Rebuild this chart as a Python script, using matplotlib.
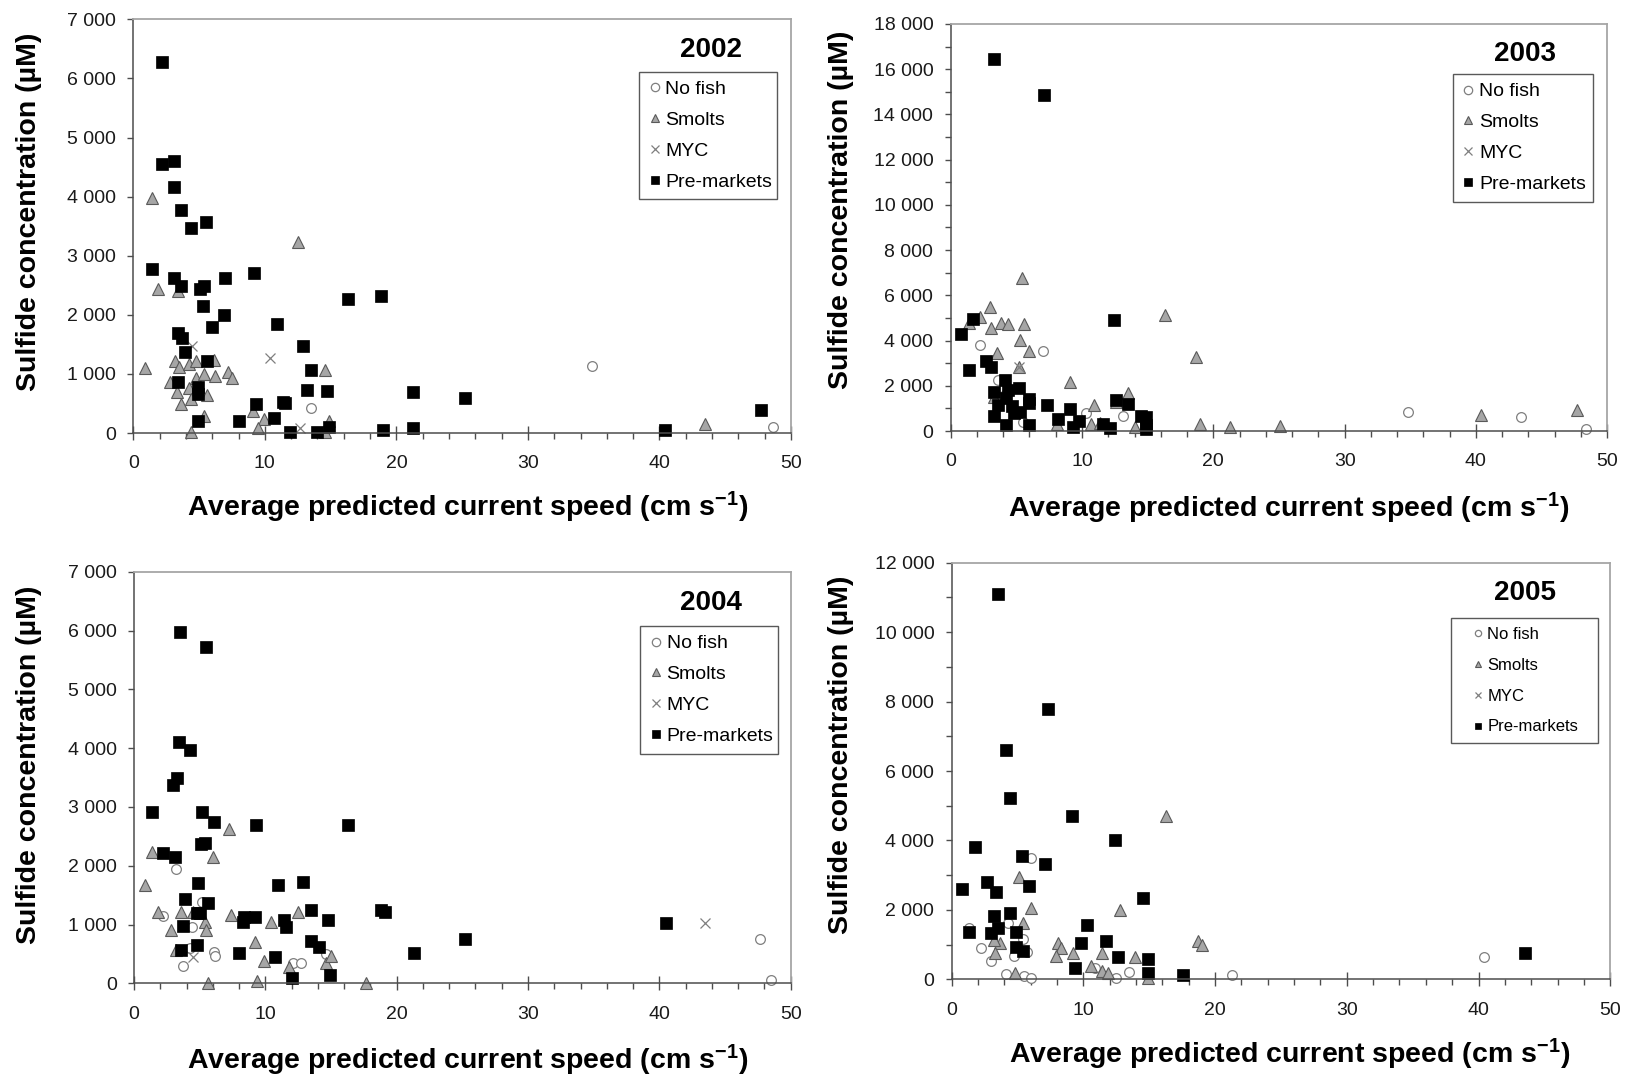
import matplotlib
matplotlib.use("Agg")
import matplotlib.pyplot as plt
from matplotlib.ticker import MultipleLocator, FuncFormatter

plt.rcParams['font.family'] = ['Liberation Sans', 'DejaVu Sans']
plt.rcParams['mathtext.default'] = 'regular'

W, H = 1629, 1075

groups = ["No fish", "Smolts", "MYC", "Pre-markets"]

# ---- 2002 : speed (cm/s), sulfide (uM) ----
nofish_x_2002 = [13.5, 34.9, 48.6]
nofish_y_2002 = [430, 1140, 100]
smolts_x_2002 = [1.4, 12.5, 1.9, 3.4, 0.9, 3.2, 3.5, 4.2, 4.8, 6.1, 7.2, 7.5, 4.8, 5.4, 6.2,
                 2.8, 3.3, 4.2, 3.6, 4.4, 5.6, 14.6, 5.4, 9.1, 9.9, 9.5, 4.4, 14.9, 14.6, 43.5]
smolts_y_2002 = [3970, 3230, 2430, 2400, 1100, 1210, 1110, 1170, 1220, 1240, 1040, 930, 930, 990, 960,
                 870, 700, 760, 490, 580, 640, 1060, 280, 370, 240, 80, 10, 200, 10, 150]
myc_x_2002 = [4.5, 10.4, 12.7]
myc_y_2002 = [1480, 1270, 80]
pre_x_2002 = [2.2, 2.2, 3.1, 3.1, 3.6, 4.4, 5.5, 1.4, 3.1, 3.6, 5.1, 5.4, 7.0, 9.2, 5.3, 6.9,
              6.0, 10.9, 3.4, 3.7, 3.9, 5.6, 12.9, 13.5, 3.4, 4.9, 4.9, 13.2, 14.7, 9.3, 11.4,
              11.5, 10.7, 8.0, 4.9, 11.9, 14.0, 14.9, 16.3, 18.8, 19.0, 21.3, 21.3, 25.2, 40.4, 47.7]
pre_y_2002 = [6270, 4550, 4610, 4160, 3780, 3470, 3570, 2770, 2620, 2490, 2440, 2480, 2620, 2700, 2150, 2000,
              1800, 1850, 1690, 1610, 1370, 1220, 1470, 1070, 870, 780, 660, 720, 710, 490, 530,
              500, 250, 200, 210, 10, 10, 100, 2270, 2310, 45, 700, 85, 600, 50, 390]

# ---- 2003 ----
nofish_x_2003 = [2.2, 7.0, 10.3, 13.1, 5.5, 3.6, 34.8, 43.4, 48.4]
nofish_y_2003 = [3810, 3540, 780, 660, 380, 2260, 830, 630, 100]
smolts_x_2003 = [5.4, 3.0, 2.2, 1.4, 3.1, 3.8, 4.4, 5.6, 5.3, 6.0, 3.5, 5.2, 16.3, 18.7, 9.1, 10.9,
                 13.5, 12.6, 3.3, 8.1, 10.7, 11.4, 14.0, 19.0, 21.3, 25.1, 40.4, 47.7]
smolts_y_2003 = [6780, 5500, 5060, 4760, 4540, 4760, 4740, 4740, 4030, 3560, 3440, 2820, 5130, 3290, 2150, 1150,
                 1670, 1300, 1520, 300, 300, 340, 190, 300, 190, 240, 710, 930]
myc_x_2003 = [5.2, 4.1]
myc_y_2003 = [2850, 1900]
pre_x_2003 = [3.3, 7.1, 0.8, 1.7, 1.4, 2.7, 3.1, 12.4, 4.1, 4.4, 3.3, 3.6, 3.3, 4.2, 4.8, 5.3, 5.2,
              6.0, 6.0, 6.0, 7.3, 8.2, 9.1, 9.3, 9.8, 11.6, 12.1, 12.6, 13.5, 14.5, 14.9, 14.9, 14.9,
              4.2, 4.7]
pre_y_2003 = [16450, 14850, 4290, 4940, 2700, 3110, 2850, 4910, 2260, 1810, 1740, 1150, 660, 270, 780, 860, 1890,
              1400, 1250, 270, 1140, 520, 970, 190, 460, 300, 150, 1370, 1180, 660, 610, 270, 70,
              1450, 1100]

# ---- 2004 ----
nofish_x_2004 = [3.2, 2.2, 5.2, 4.4, 3.7, 4.3, 6.1, 6.2, 12.1, 12.7, 14.6, 47.7, 48.5]
nofish_y_2004 = [1940, 1140, 1380, 960, 300, 600, 540, 470, 340, 350, 490, 760, 60]
smolts_x_2004 = [1.4, 7.2, 6.0, 0.8, 1.8, 3.6, 4.5, 5.4, 5.5, 2.8, 3.2, 7.4, 10.4, 12.5, 9.2, 9.9,
                 11.8, 14.6, 15.0, 9.4, 5.6, 17.7]
smolts_y_2004 = [2230, 2620, 2150, 1670, 1220, 1210, 1220, 1050, 900, 910, 570, 1160, 1050, 1220, 710, 380,
                 280, 340, 470, 45, 0, 0]
myc_x_2004 = [4.5, 43.5]
myc_y_2004 = [440, 1020]
pre_x_2004 = [3.5, 5.5, 3.4, 4.3, 3.3, 3.0, 1.4, 5.2, 6.1, 9.3, 16.3, 2.2, 3.1, 5.1, 5.4, 4.9, 11.0,
              12.9, 3.9, 5.6, 4.8, 5.0, 8.4, 8.3, 9.2, 11.4, 11.6, 13.5, 14.8, 3.7, 4.8, 3.6, 8.0,
              10.7, 13.5, 14.1, 12.0, 14.9, 18.8, 19.1, 21.3, 25.2, 40.5]
pre_y_2004 = [5980, 5720, 4100, 3960, 3500, 3370, 2920, 2920, 2750, 2690, 2690, 2210, 2140, 2370, 2380, 1700, 1670,
              1720, 1430, 1370, 1190, 1200, 1120, 1050, 1120, 1070, 960, 1250, 1080, 980, 650, 570, 520,
              450, 720, 620, 85, 140, 1250, 1210, 520, 750, 1020]

# ---- 2005 ----
nofish_x_2005 = [1.3, 2.2, 3.0, 6.0, 4.3, 5.4, 4.7, 4.1, 5.5, 6.0, 5.7, 10.9, 12.5, 13.5, 21.3, 40.4]
nofish_y_2005 = [1470, 890, 530, 3500, 1610, 1160, 670, 140, 100, 30, 800, 320, 30, 220, 120, 650]
smolts_x_2005 = [16.3, 5.1, 6.0, 12.8, 5.4, 3.7, 3.2, 3.3, 8.1, 8.3, 7.9, 9.2, 11.4, 13.9, 10.6, 11.4,
                 11.9, 4.8, 18.7, 19.0, 14.9]
smolts_y_2005 = [4700, 2940, 2040, 2010, 1630, 1040, 1130, 750, 1060, 890, 670, 750, 750, 650, 390, 250,
                 190, 170, 1100, 990, 50]
myc_x_2005 = []
myc_y_2005 = []
pre_x_2005 = [3.5, 7.3, 4.1, 4.4, 9.1, 12.4, 1.8, 5.3, 7.1, 5.9, 0.8, 2.7, 3.4, 14.5, 3.2, 4.4, 10.3,
              3.5, 3.0, 1.3, 4.9, 11.7, 9.8, 4.9, 5.4, 12.6, 14.9, 9.4, 14.9, 17.6, 43.5]
pre_y_2005 = [11110, 7800, 6600, 5210, 4700, 4010, 3820, 3560, 3310, 2700, 2590, 2810, 2520, 2330, 1820, 1900, 1560,
              1470, 1320, 1350, 1350, 1110, 1040, 940, 820, 630, 580, 320, 190, 115, 750]

years = ["2002", "2003", "2004", "2005"]
series = {
    "2002": [(nofish_x_2002, nofish_y_2002), (smolts_x_2002, smolts_y_2002),
             (myc_x_2002, myc_y_2002), (pre_x_2002, pre_y_2002)],
    "2003": [(nofish_x_2003, nofish_y_2003), (smolts_x_2003, smolts_y_2003),
             (myc_x_2003, myc_y_2003), (pre_x_2003, pre_y_2003)],
    "2004": [(nofish_x_2004, nofish_y_2004), (smolts_x_2004, smolts_y_2004),
             (myc_x_2004, myc_y_2004), (pre_x_2004, pre_y_2004)],
    "2005": [(nofish_x_2005, nofish_y_2005), (smolts_x_2005, smolts_y_2005),
             (myc_x_2005, myc_y_2005), (pre_x_2005, pre_y_2005)],
}
ymax = {"2002": 7000, "2003": 18000, "2004": 7000, "2005": 12000}
ystep = {"2002": 1000, "2003": 2000, "2004": 1000, "2005": 2000}

styles = [
    dict(marker='o', ms=7, mfc='white', mec='#7f7f7f', mew=0.9),
    dict(marker='^', ms=8, mfc='#a6a6a6', mec='#595959', mew=0.8),
    dict(marker='x', ms=7, mec='#7f7f7f', mew=0.9),
    dict(marker='s', ms=8.5, mfc='black', mec='black', mew=0.5),
]

# panel boxes in pixels: left, right, top, bottom
boxes = {
    "2002": (133.3, 791.0, 19.3, 433.0),
    "2003": (950.7, 1607.2, 24.0, 431.0),
    "2004": (134.0, 790.7, 571.7, 983.3),
    "2005": (951.7, 1610.2, 562.7, 979.3),
}
# legend: left, top, width (axes fraction), fontsize, pad, spacing, handle len, text pad, marker size
legends = {
    "2002": (0.769, 0.873, 0.210, 14, 0.45, 0.68, 0.7, 0.2, 6),
    "2003": (0.765, 0.877, 0.213, 14, 0.45, 0.68, 0.7, 0.2, 6),
    "2004": (0.771, 0.868, 0.209, 14, 0.45, 0.68, 0.7, 0.2, 6),
    "2005": (0.758, 0.8665, 0.224, 12, 0.52, 0.95, 2.24, -0.57, 4.5),
}
titles_pos = {"2002": (0.879, 0.925), "2003": (0.875, 0.927),
              "2004": (0.878, 0.925), "2005": (0.871, 0.927)}
ylab_pos = {"2002": (29, 212), "2003": (841.5, 210), "2004": (29, 765), "2005": (841, 755)}
xlab_pos = {"2002": (467.5, 507), "2003": (1289, 508), "2004": (467.5, 1060), "2005": (1290, 1054)}

fig = plt.figure(figsize=(W / 100, H / 100), dpi=100)
fmt = FuncFormatter(lambda v, p: f"{int(round(v)):,}".replace(",", " "))

for yr in years:
    l, r, t, b = boxes[yr]
    ax = fig.add_axes([l / W, 1 - b / H, (r - l) / W, (b - t) / H])
    for name, (xs, ys), st in zip(groups, series[yr], styles):
        ax.plot(xs, ys, linestyle='none', label=name, clip_on=False, **st)

    ax.set_xlim(0, 50)
    ax.set_ylim(0, ymax[yr])
    ax.xaxis.set_major_locator(MultipleLocator(10))
    ax.xaxis.set_minor_locator(MultipleLocator(2))
    ax.yaxis.set_major_locator(MultipleLocator(ystep[yr]))
    ax.yaxis.set_minor_locator(MultipleLocator(1000))
    ax.yaxis.set_major_formatter(fmt)

    ax.tick_params(axis='x', which='major', direction='inout', length=10, width=1,
                   color='#4d4d4d', labelsize=14, pad=11, labelcolor='#1a1a1a')
    ax.tick_params(axis='x', which='minor', direction='out', length=4.5, width=1, color='#4d4d4d')
    ax.tick_params(axis='y', which='both', direction='out', length=4.5, width=1,
                   color='#4d4d4d', labelsize=14, pad=8, labelcolor='#1a1a1a')

    for side in ['left', 'bottom']:
        ax.spines[side].set_color('#4d4d4d')
        ax.spines[side].set_linewidth(1.1)
    for side in ['top', 'right']:
        ax.spines[side].set_color('#a6a6a6')
        ax.spines[side].set_linewidth(1.3)

    ax.text(*titles_pos[yr], yr, transform=ax.transAxes, ha='center', va='center',
            fontsize=20, fontweight='bold')

    lx, ly, lw, fs, bp, ls, hl, htp, lms = legends[yr]
    leg = ax.legend(loc='upper left', bbox_to_anchor=(lx, ly - 0.3, lw, 0.3), mode='expand',
                    borderaxespad=0, fontsize=fs, borderpad=bp, labelspacing=ls,
                    handlelength=hl, handletextpad=htp, fancybox=False, framealpha=1,
                    edgecolor='#595959', numpoints=1)
    leg.get_frame().set_linewidth(1.0)
    for h in leg.legend_handles:
        h.set_markersize(lms)

    fig.text(ylab_pos[yr][0] / W, 1 - ylab_pos[yr][1] / H, "Sulfide concentration (µM)",
             rotation=90, ha='center', va='center', fontsize=20.5, fontweight='bold')
    fig.text(xlab_pos[yr][0] / W, 1 - xlab_pos[yr][1] / H,
             "Average predicted current speed (cm s$^{-1}$)",
             ha='center', va='center', fontsize=20.5, fontweight='bold')

fig.savefig("out.png", dpi=100, facecolor='white')
